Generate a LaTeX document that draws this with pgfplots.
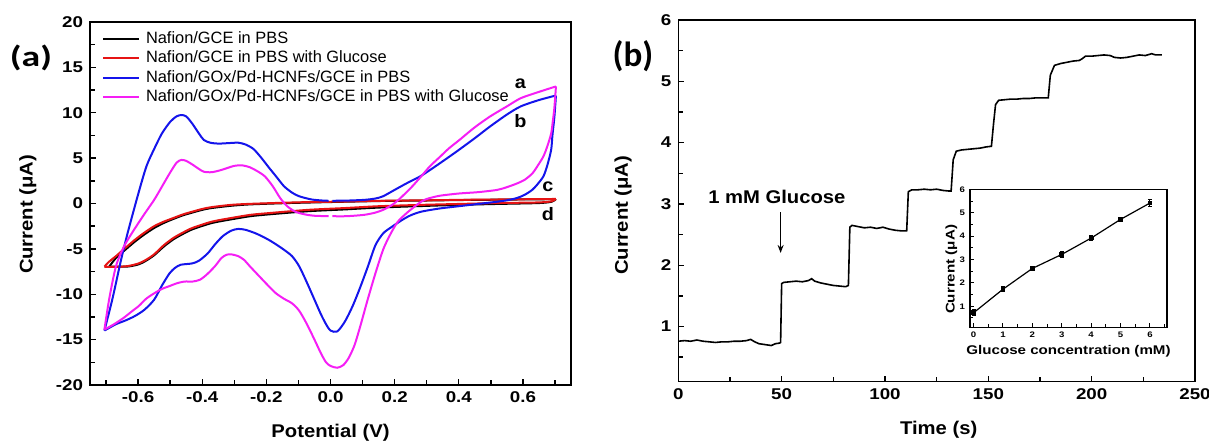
\documentclass[border=0pt]{standalone}
\usepackage{fontspec}
\setmainfont{Liberation Sans}
\newfontfamily\tickfont{Liberation Sans}[FakeStretch=1.2]
\newfontfamily\labfont{Liberation Sans}[FakeStretch=1.1]
\newfontfamily\carlito{Carlito}
\newfontfamily\carlitowide{Carlito}[FakeStretch=1.3]
\usepackage{pgfplots}
\pgfplotsset{compat=1.18}
\usetikzlibrary{arrows.meta}
\definecolor{cvred}{RGB}{230,20,20}
\definecolor{cvblue}{RGB}{20,20,235}
\definecolor{cvmag}{RGB}{245,30,245}
\pgfplotsset{
  myaxis/.style={
    scale only axis,
    axis line style={line width=0.8pt},
    tick align=inside,
    xtick pos=left, ytick pos=left,
    major tick length=3pt, minor tick length=2.5pt,
    tick style={line width=0.7pt, black},
    /pgf/number format/assume math mode=true,
    ticklabel style={font=\tickfont\bfseries\fontsize{7.8}{9}\selectfont},
    label style={font=\labfont\bfseries\fontsize{9.2}{10}\selectfont},
  }
}
\begin{document}
\begin{tikzpicture}
\path[use as bounding box] (0,0) rectangle (604.5pt,-221pt);
\node[font=\carlitowide\bfseries\fontsize{14.5}{16}\selectfont] at (15.5pt,-29pt) {(a)};
\node[font=\carlito\bfseries\fontsize{17.5}{19}\selectfont] at (316.5pt,-28pt) {(b)};
% ---------------- panel (a)
\begin{axis}[myaxis, at={(45pt,-192.5pt)}, anchor=south west,
  width=240.5pt, height=181.5pt,
  xmin=-0.75, xmax=0.75, ymin=-20, ymax=20,
  xtick={-0.6,-0.4,-0.2,0,0.2,0.4,0.6},
  xticklabels={-0.6,-0.4,-0.2,0.0,0.2,0.4,0.6},
  minor xtick={-0.7,-0.5,-0.3,-0.1,0.1,0.3,0.5,0.7},
  ytick={-20,-15,-10,-5,0,5,10,15,20},
  yticklabels={-20,-15,-10,-5,0,5,10,15,20},
  minor ytick={-17.5,-12.5,-7.5,-2.5,2.5,7.5,12.5,17.5},
  xlabel={Potential (V)}, ylabel={Current (μA)},
  xlabel style={at={(axis description cs:0.5,-0.132)}, anchor=center},
  ylabel style={at={(axis description cs:-0.129,0.47)}, anchor=center},
  legend style={at={(0.025,0.975)}, anchor=north west, draw=none, fill=none,
    inner sep=0pt, outer sep=0pt, font=\fontsize{8.2}{9}\selectfont,
    row sep=1.8pt, column sep=3pt,
    nodes={inner sep=0pt, text height=6.2pt, text depth=1.65pt}},
  legend cell align=left,
  legend image code/.code={\draw[#1] (0pt,0pt) -- (18pt,0pt);},
  every axis plot/.append style={line width=1pt, smooth, tension=0.45},
]
% black: Nafion/GCE in PBS
\addplot[black] coordinates {(-0.69,-6.95) (-0.669,-6.0) (-0.64,-5.1) (-0.61,-4.2) (-0.58,-3.4) (-0.55,-2.7) (-0.52,-2.15) (-0.49,-1.7) (-0.46,-1.3) (-0.431,-1.0) (-0.40,-0.7) (-0.371,-0.5) (-0.31,-0.25) (-0.252,-0.1) (-0.15,0.03) (-0.074,0.1) (0.05,0.2) (0.164,0.28) (0.3,0.33) (0.40,0.38) (0.55,0.43) (0.703,0.48)};
\addlegendentry{Nafion/GCE in PBS}
\addplot[black, forget plot] coordinates {(0.703,0.48) (0.69,0.2) (0.65,0.05) (0.52,-0.05) (0.4,-0.15) (0.283,-0.28) (0.15,-0.45) (0.045,-0.65) (-0.07,-0.85) (-0.193,-1.2) (-0.25,-1.4) (-0.31,-1.75) (-0.37,-2.15) (-0.431,-2.85) (-0.46,-3.35) (-0.49,-3.95) (-0.52,-4.75) (-0.55,-5.7) (-0.575,-6.3) (-0.598,-6.7) (-0.633,-6.95) (-0.69,-6.95)};
% red: Nafion/GCE in PBS with Glucose
\addplot[cvred] coordinates {(-0.705,-6.95) (-0.69,-6.4) (-0.669,-5.8) (-0.64,-4.9) (-0.61,-4.0) (-0.58,-3.2) (-0.55,-2.5) (-0.52,-2.0) (-0.49,-1.6) (-0.46,-1.2) (-0.431,-0.9) (-0.40,-0.6) (-0.371,-0.4) (-0.31,-0.15) (-0.252,-0.04) (-0.15,0.08) (-0.074,0.15) (0.05,0.22) (0.164,0.3) (0.3,0.35) (0.40,0.4) (0.55,0.45) (0.703,0.5)};
\addlegendentry{Nafion/GCE in PBS with Glucose}
\addplot[cvred, forget plot] coordinates {(0.703,0.5) (0.69,0.25) (0.65,0.12) (0.52,0.05) (0.4,-0.05) (0.283,-0.15) (0.15,-0.3) (0.045,-0.5) (-0.07,-0.7) (-0.193,-1.06) (-0.25,-1.25) (-0.31,-1.6) (-0.37,-2.0) (-0.431,-2.7) (-0.46,-3.2) (-0.49,-3.8) (-0.52,-4.6) (-0.55,-5.6) (-0.575,-6.2) (-0.598,-6.6) (-0.633,-6.9) (-0.67,-6.98) (-0.705,-6.98)};
% blue
\addplot[cvblue] coordinates {(-0.705,-14.0) (-0.68,-10.5) (-0.655,-6.5) (-0.633,-3.3) (-0.60,1.0) (-0.574,4.1) (-0.55,6.0) (-0.526,7.7) (-0.50,9.0) (-0.48,9.6) (-0.465,9.75) (-0.45,9.6) (-0.431,8.8) (-0.41,7.7) (-0.395,7.0) (-0.375,6.7) (-0.35,6.6) (-0.32,6.65) (-0.288,6.7) (-0.265,6.5) (-0.24,6.0) (-0.215,5.0) (-0.193,4.0) (-0.17,3.0) (-0.145,1.9) (-0.12,1.2) (-0.098,0.8) (-0.06,0.45) (-0.026,0.33) (-0.006,0.3)};
\addlegendentry{Nafion/GOx/Pd-HCNFs/GCE in PBS}
\addplot[cvblue, forget plot] coordinates {(0.006,0.3) (0.05,0.32) (0.105,0.4) (0.14,0.55) (0.164,0.8) (0.2,1.5) (0.236,2.2) (0.28,3.0) (0.319,3.9) (0.36,4.9) (0.40,5.9) (0.45,7.2) (0.498,8.5) (0.55,9.8) (0.593,10.7) (0.65,11.4) (0.703,11.9)};
\addplot[cvblue, forget plot] coordinates {(0.703,11.9) (0.698,9.5) (0.692,7.5) (0.688,5.9) (0.676,4.2) (0.664,3.0) (0.645,2.1) (0.629,1.5) (0.605,0.95) (0.581,0.6) (0.55,0.35) (0.52,0.2) (0.46,-0.05) (0.40,-0.3) (0.34,-0.55) (0.283,-0.9) (0.25,-1.3) (0.224,-1.8) (0.19,-2.6) (0.164,-3.3) (0.14,-4.6) (0.117,-6.9) (0.093,-9.2) (0.069,-11.3) (0.045,-13.0) (0.021,-14.1) (0.0,-14.0) (-0.014,-13.3) (-0.03,-12.2) (-0.05,-10.6) (-0.075,-8.6) (-0.098,-6.9) (-0.12,-5.8) (-0.145,-5.1) (-0.17,-4.5) (-0.193,-4.0) (-0.22,-3.5) (-0.24,-3.2) (-0.265,-2.9) (-0.288,-2.8) (-0.31,-3.0) (-0.336,-3.6) (-0.36,-4.5) (-0.383,-5.5) (-0.41,-6.3) (-0.431,-6.6) (-0.467,-6.75) (-0.485,-7.1) (-0.502,-7.7) (-0.525,-9.0) (-0.55,-10.6) (-0.58,-11.7) (-0.61,-12.4) (-0.64,-12.9) (-0.669,-13.3) (-0.705,-14.0)};
% magenta
\addplot[cvmag] coordinates {(-0.705,-13.9) (-0.69,-10.5) (-0.669,-6.9) (-0.645,-4.8) (-0.62,-3.3) (-0.585,-1.4) (-0.55,0.4) (-0.525,1.9) (-0.502,3.3) (-0.48,4.5) (-0.465,4.8) (-0.45,4.7) (-0.431,4.3) (-0.41,3.8) (-0.395,3.5) (-0.37,3.45) (-0.34,3.7) (-0.30,4.15) (-0.275,4.2) (-0.252,4.0) (-0.23,3.6) (-0.205,3.0) (-0.18,1.9) (-0.157,0.6) (-0.135,-0.3) (-0.11,-0.9) (-0.08,-1.2) (-0.05,-1.35) (-0.006,-1.4)};
\addlegendentry{Nafion/GOx/Pd-HCNFs/GCE in PBS with Glucose}
\addplot[cvmag, forget plot] coordinates {(0.006,-1.4) (0.05,-1.4) (0.105,-1.25) (0.14,-1.0) (0.164,-0.7) (0.19,-0.2) (0.212,0.4) (0.25,1.7) (0.283,3.0) (0.31,4.1) (0.343,5.2) (0.37,6.1) (0.402,7.0) (0.45,8.4) (0.498,9.6) (0.55,10.7) (0.593,11.6) (0.65,12.3) (0.703,12.9)};
\addplot[cvmag, forget plot] coordinates {(0.703,12.9) (0.698,10.5) (0.693,9.0) (0.688,7.7) (0.676,6.3) (0.664,5.2) (0.645,4.1) (0.629,3.3) (0.605,2.6) (0.581,2.2) (0.55,1.8) (0.52,1.5) (0.46,1.25) (0.40,1.1) (0.34,0.85) (0.30,0.5) (0.283,0.2) (0.26,-0.4) (0.236,-1.1) (0.21,-2.0) (0.188,-3.3) (0.165,-5.0) (0.14,-7.7) (0.115,-10.7) (0.093,-13.5) (0.075,-15.6) (0.057,-17.0) (0.04,-17.8) (0.021,-18.1) (0.0,-17.9) (-0.014,-17.5) (-0.03,-16.5) (-0.05,-15.0) (-0.075,-13.2) (-0.098,-11.8) (-0.12,-11.0) (-0.145,-10.5) (-0.17,-9.9) (-0.193,-9.1) (-0.22,-8.1) (-0.252,-6.9) (-0.27,-6.2) (-0.288,-5.8) (-0.31,-5.6) (-0.324,-5.65) (-0.34,-6.0) (-0.36,-6.9) (-0.385,-7.8) (-0.407,-8.4) (-0.43,-8.6) (-0.455,-8.6) (-0.48,-8.8) (-0.502,-9.1) (-0.525,-9.4) (-0.55,-9.9) (-0.575,-10.5) (-0.598,-11.3) (-0.62,-11.9) (-0.645,-12.6) (-0.675,-13.3) (-0.705,-13.9)};
\node[font=\labfont\bfseries\fontsize{9}{10}\selectfont] at (axis cs:0.592,13.2) {a};
\node[font=\labfont\bfseries\fontsize{9}{10}\selectfont] at (axis cs:0.592,9.1) {b};
\node[font=\labfont\bfseries\fontsize{9}{10}\selectfont] at (axis cs:0.678,1.85) {c};
\node[font=\labfont\bfseries\fontsize{9}{10}\selectfont] at (axis cs:0.678,-1.16) {d};
\end{axis}
% ---------------- panel (b)
\begin{axis}[myaxis, at={(339.15pt,-190.85pt)}, anchor=south west,
  width=258.35pt, height=180.85pt,
  xmin=0, xmax=250, ymin=0.1, ymax=6,
  xtick={0,50,100,150,200,250},
  minor xtick={25,75,125,175,225},
  ytick={1,2,3,4,5,6},
  minor ytick={0.5,1.5,2.5,3.5,4.5,5.5},
  xlabel={Time (s)}, ylabel={Current (μA)},
  xlabel style={at={(axis description cs:0.504,-0.134)}, anchor=center},
  ylabel style={at={(axis description cs:-0.107,0.46)}, anchor=center},
]
\addplot[black, line width=0.8pt] table {
t I
0 0.76
3 0.77
6 0.76
9 0.78
12 0.76
15 0.75
18 0.74
21 0.75
24 0.75
27 0.76
30 0.76
33 0.77
35 0.79
37 0.75
39 0.72
41 0.71
43 0.70
45 0.69
47 0.72
49 0.73
49.5 0.74
50.0 1.70
51 1.72
54 1.73
57 1.74
60 1.73
63 1.75
64.5 1.78
66 1.74
69 1.71
72 1.69
75 1.67
78 1.66
81 1.65
82.3 1.67
83 2.62
84 2.65
87 2.63
90 2.61
93 2.62
96 2.60
99 2.62
102 2.59
105 2.57
108 2.56
110.5 2.56
111.3 3.20
113 3.23
116 3.23
119 3.24
122 3.23
125 3.24
128 3.22
131 3.21
132 3.21
133 3.72
134.5 3.86
137 3.88
140 3.89
143 3.90
146 3.91
149 3.93
151.5 3.94
152.5 4.30
153.5 4.62
155 4.69
158 4.70
161 4.71
164 4.71
167 4.72
170 4.72
173 4.73
176 4.73
179 4.73
180 5.10
182 5.26
185 5.29
188 5.31
191 5.33
194 5.34
195.5 5.37
197 5.41
200 5.41
203 5.42
206 5.43
209 5.42
211 5.39
214 5.38
217 5.39
220 5.41
223 5.43
226 5.42
229 5.45
231 5.43
234 5.43
};
\node[font=\labfont\bfseries\fontsize{9.2}{10}\selectfont] at (axis cs:47.7,3.12) {1 mM Glucose};
\draw[-{Stealth[length=4pt,width=3pt]}, line width=0.7pt] (axis cs:49.5,2.86) -- (axis cs:49.5,2.2);
\end{axis}
% ---------------- inset
\begin{axis}[myaxis, at={(485pt,-163.65pt)}, anchor=south west,
  width=98.5pt, height=68.9pt,
  axis line style={line width=0.7pt},
  xmin=-0.12, xmax=6.58, ymin=0.1, ymax=6,
  xtick={0,1,2,3,4,5,6}, ytick={1,2,3,4,5,6},
  minor xtick={0.5,1.5,2.5,3.5,4.5,5.5,6.5},
  minor ytick={0.5,1.5,2.5,3.5,4.5,5.5},
  major tick length=2pt, minor tick length=1.5pt,
  tick style={line width=0.5pt},
  ticklabel style={font=\tickfont\bfseries\fontsize{4}{5}\selectfont},
  xticklabel style={yshift=1pt}, yticklabel style={xshift=1pt},
  label style={font=\tickfont\bfseries\fontsize{6.3}{7}\selectfont},
  xlabel={Glucose concentration (mM)}, ylabel={Current (μA)},
  xlabel style={at={(axis description cs:0.5,-0.175)}, anchor=center},
  ylabel style={at={(axis description cs:-0.095,0.42)}, anchor=center},
]
\addplot[black, line width=0.6pt, mark=square*, mark size=0.9pt,
  error bars/.cd, y dir=both, y explicit,
  error bar style={line width=0.5pt},
  error mark options={rotate=90, mark size=1pt, line width=0.5pt}]
  table[x=c, y=I, y error=e] {
c I e
0 0.72 0.13
1 1.73 0.10
2 2.62 0.10
3 3.22 0.12
4 3.92 0.12
5 4.72 0.10
6 5.42 0.15
};
\end{axis}
\end{tikzpicture}
\end{document}
